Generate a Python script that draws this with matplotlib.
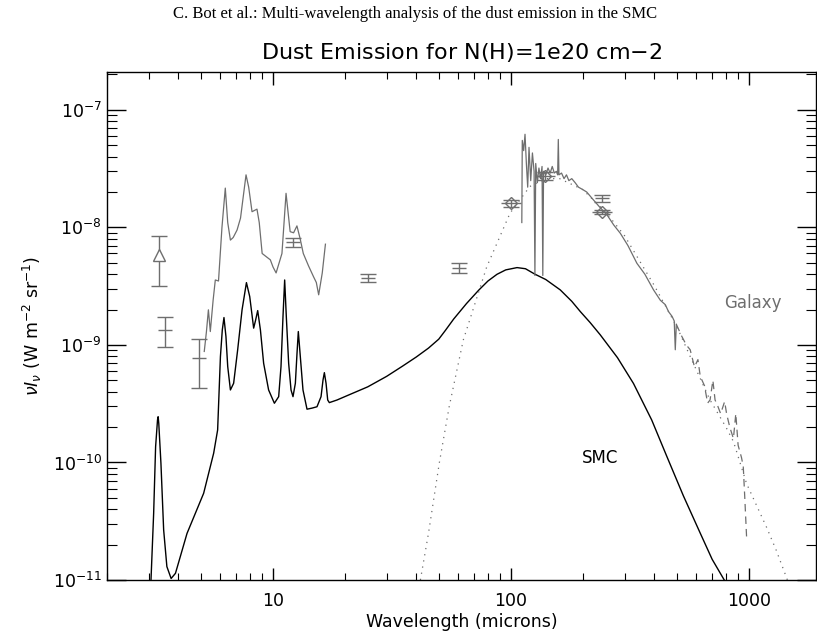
import math
import matplotlib
matplotlib.use("Agg")
import matplotlib.pyplot as plt
from matplotlib.ticker import FixedLocator, NullFormatter, FuncFormatter

# ---------------- data ----------------
smc_wav = [3.05, 3.07, 3.15, 3.21, 3.27, 3.29, 3.31, 3.38, 3.47, 3.58, 3.73, 3.89, 4.35, 5.11,
           5.63, 5.85, 6.01, 6.12, 6.22, 6.34, 6.45, 6.62, 6.83, 7.10, 7.41, 7.73, 7.98, 8.29,
           8.45, 8.62, 8.85, 9.13, 9.58, 10.13, 10.56, 10.80, 11.01, 11.19, 11.37, 11.63, 11.90,
           12.13, 12.41, 12.61, 12.77, 13.02, 13.36, 13.89, 14.58, 15.30, 15.91, 16.22, 16.43,
           16.70, 16.97, 17.24, 18.57, 20.78, 25, 30, 35, 40, 45, 49.7, 53, 57.4, 65, 73.1, 80,
           87.3, 95, 106, 115, 126, 140, 161, 180, 195.6, 215, 237, 280, 327, 390, 452, 530, 624,
           700, 787, 820]
smc_flux = [8e-12, 1e-11, 3.69e-11, 1.36e-10, 2.3e-10, 2.45e-10, 2.15e-10, 9.85e-11, 2.67e-11,
            1.3e-11, 1.03e-11, 1.14e-11, 2.49e-11, 5.47e-11, 1.2e-10, 1.89e-10, 7.95e-10, 1.34e-9,
            1.71e-9, 1.18e-9, 6.54e-10, 4.14e-10, 4.72e-10, 9.06e-10, 1.99e-9, 3.39e-9, 2.58e-9,
            1.39e-9, 1.63e-9, 1.96e-9, 1.34e-9, 6.98e-10, 4.14e-10, 3.19e-10, 3.63e-10, 6.54e-10,
            1.74e-9, 3.57e-9, 1.74e-9, 6.98e-10, 4.14e-10, 3.63e-10, 4.72e-10, 8.49e-10, 1.30e-9,
            7.95e-10, 4.14e-10, 2.84e-10, 2.9e-10, 2.98e-10, 3.63e-10, 5.04e-10, 5.81e-10,
            4.72e-10, 3.4e-10, 3.23e-10, 3.4e-10, 3.75e-10, 4.4e-10, 5.4e-10, 6.6e-10, 7.9e-10,
            9.4e-10, 1.12e-9, 1.33e-9, 1.66e-9, 2.25e-9, 2.92e-9, 3.5e-9, 3.99e-9, 4.35e-9,
            4.55e-9, 4.45e-9, 4.0e-9, 3.6e-9, 2.94e-9, 2.35e-9, 1.92e-9, 1.55e-9, 1.22e-9,
            7.8e-10, 4.7e-10, 2.3e-10, 1.12e-10, 5.2e-11, 2.5e-11, 1.5e-11, 1e-11, 8.5e-12]

gal_mir_wav = [5.14, 5.25, 5.35, 5.45, 5.6, 5.72, 5.9, 6.1, 6.3, 6.45, 6.62, 6.8, 7.06, 7.3,
               7.7, 7.9, 8.16, 8.56, 8.75, 9.0, 9.4, 9.74, 10.0, 10.3, 10.9, 11.34, 11.8, 12.2,
               12.6, 13.0, 13.4, 14.1, 14.8, 15.2, 15.55, 16.1, 16.6]
gal_mir_flux = [8.8e-10, 1.3e-9, 1.99e-9, 1.3e-9, 2.4e-9, 3.57e-9, 3.5e-9, 1e-8, 2.16e-8, 1.1e-8,
                7.8e-9, 8.2e-9, 9.5e-9, 1.2e-8, 2.8e-8, 2.2e-8, 1.36e-8, 1.43e-8, 1.1e-8, 6.0e-9,
                5.6e-9, 5.3e-9, 4.6e-9, 4.1e-9, 6e-9, 1.95e-8, 9.2e-9, 9.0e-9, 1.03e-8, 8e-9,
                6e-9, 4.7e-9, 3.8e-9, 3.4e-9, 2.67e-9, 4.1e-9, 7.2e-9]

gal_fir_wav = [111, 111.5, 113, 114.5, 116, 117.5, 119, 121, 123, 125, 126, 127, 129, 131, 133,
               135, 136, 137, 140, 143, 146, 149, 152, 155, 157, 158, 159, 163, 167, 171, 175,
               180, 186, 192, 200, 208, 220, 235, 253, 270, 288, 310, 338, 365, 397, 424, 445,
               459, 475, 485, 490, 495]
gal_fir_flux = [1.1e-8, 5.5e-8, 4.5e-8, 6.2e-8, 3.5e-8, 2.2e-8, 4.8e-8, 2.5e-8, 4.3e-8, 3e-8,
                3.9e-9, 3.5e-8, 2.4e-8, 3.2e-8, 2.6e-8, 3.3e-8, 3.9e-9, 3e-8, 2.8e-8, 3.2e-8,
                2.9e-8, 3.3e-8, 2.9e-8, 3.0e-8, 2.8e-8, 5.6e-8, 2.8e-8, 2.9e-8, 2.6e-8, 2.8e-8,
                2.5e-8, 2.6e-8, 2.4e-8, 2.2e-8, 2.1e-8, 2.0e-8, 1.75e-8, 1.5e-8, 1.28e-8, 1.05e-8,
                8.9e-9, 7e-9, 4.95e-9, 4e-9, 2.94e-9, 2.4e-9, 2.2e-9, 1.92e-9, 1.75e-9, 1.6e-9,
                9.1e-10, 1.5e-9]

gal_tail_wav = [495, 520, 545, 566, 590, 610, 624, 650, 670, 686, 705, 720, 740, 760, 790, 805,
                830, 860, 880, 900, 930, 946, 960, 977]
gal_tail_flux = [1.5e-9, 1.2e-9, 1.0e-9, 9.1e-10, 6.5e-10, 7.5e-10, 5.4e-10, 4.5e-10, 3.2e-10,
                 3.4e-10, 5.0e-10, 3.4e-10, 3.0e-10, 2.6e-10, 3.3e-10, 2.6e-10, 2.0e-10, 1.6e-10,
                 2.6e-10, 1.4e-10, 1.1e-10, 9.2e-11, 5e-11, 2.3e-11]

model_wav = [41.6, 45, 50, 55, 63, 79, 99, 120, 140, 160, 200, 250, 300, 400, 500, 558, 686,
             800, 861, 977, 1186, 1300, 1450]
model_flux = [1e-11, 2.5e-11, 1e-10, 3e-10, 1.1e-9, 4.6e-9, 1.32e-8, 2.23e-8, 2.6e-8, 2.6e-8,
              2.1e-8, 1.35e-8, 8.5e-9, 3.2e-9, 1.4e-9, 8.5e-10, 3.4e-10, 2e-10, 1.5e-10, 6.6e-11,
              2.8e-11, 1.8e-11, 1e-11]

# photometry with error bars
tri_wav, tri_flux, tri_lo, tri_hi = [3.31], [5.83e-9], [3.2e-9], [8.5e-9]
pt_wav = [3.50, 4.90, 12.1, 25.0, 60.4, 241]
pt_flux = [1.33e-9, 7.7e-10, 7.5e-9, 3.7e-9, 4.55e-9, 1.77e-8]
pt_lo = [9.55e-10, 4.33e-10, 6.8e-9, 3.4e-9, 4.1e-9, 1.63e-8]
pt_hi = [1.72e-9, 1.12e-9, 8.2e-9, 4.0e-9, 5.0e-9, 1.87e-8]
dia_wav = [100, 139, 241]
dia_flux = [1.6e-8, 2.75e-8, 1.36e-8]
dia_lo = [1.5e-8, 2.55e-8, 1.3e-8]
dia_hi = [1.7e-8, 2.95e-8, 1.42e-8]

x_major = [10, 100, 1000]
y_major = [1e-11, 1e-10, 1e-9, 1e-8, 1e-7]

# ---------------- figure ----------------
GREY = "#6e6e6e"
fig = plt.figure(figsize=(8.17, 6.33), dpi=100)
ax = fig.add_axes([106.7 / 817, 53 / 633, (816 - 106.7) / 817, (580 - 72) / 633])
ax.set_xscale("log")
ax.set_yscale("log")

ax.plot(smc_wav, smc_flux, color="black", lw=1.0)
ax.plot(gal_mir_wav, gal_mir_flux, color=GREY, lw=0.9)
ax.plot(gal_fir_wav, gal_fir_flux, color=GREY, lw=0.9)
ax.plot(gal_tail_wav, gal_tail_flux, color=GREY, lw=0.9, dashes=(6, 4))
ax.plot(model_wav, model_flux, color=GREY, lw=0.9, ls=(0, (1, 4)))


def err(f, lo, hi):
    return [[fi - l for fi, l in zip(f, lo)], [h - fi for fi, h in zip(f, hi)]]


ax.errorbar(tri_wav, tri_flux, yerr=err(tri_flux, tri_lo, tri_hi), fmt="^",
            mfc="white", mec=GREY, ms=9, ecolor=GREY, elinewidth=1, capsize=6, capthick=1)
ax.errorbar(pt_wav, pt_flux, yerr=err(pt_flux, pt_lo, pt_hi), fmt="_",
            color=GREY, ms=10, ecolor=GREY, elinewidth=1, capsize=6, capthick=1)
ax.errorbar(dia_wav, dia_flux, yerr=err(dia_flux, dia_lo, dia_hi), fmt="D",
            mfc="none", mec=GREY, ms=6, ecolor=GREY, elinewidth=1, capsize=6, capthick=1)
ax.plot(dia_wav, dia_flux, ls="none", marker="_", color=GREY, ms=14)

xmin, xmax = 2.0, 1912
ymin, ymax = 1e-11, 2.1e-7
ax.set_xlim(xmin, xmax)
ax.set_ylim(ymin, ymax)

x_minor = [m * d for d in [1, 10, 100, 1000] for m in range(2, 10) if xmin <= m * d <= xmax]
y_minor = [m * d for d in y_major for m in range(2, 10) if ymin <= m * d <= ymax]
ax.xaxis.set_major_locator(FixedLocator(x_major))
ax.xaxis.set_minor_locator(FixedLocator(x_minor))
ax.xaxis.set_minor_formatter(NullFormatter())
ax.xaxis.set_major_formatter(FuncFormatter(lambda v, p: f"{int(round(v))}"))
ax.yaxis.set_major_locator(FixedLocator(y_major))
ax.yaxis.set_minor_locator(FixedLocator(y_minor))
ax.yaxis.set_minor_formatter(NullFormatter())
ax.yaxis.set_major_formatter(FuncFormatter(lambda v, p: r"$10^{%d}$" % round(math.log10(v))))
ax.tick_params(which="both", direction="in", top=True, right=True, labelsize=12.5)
ax.tick_params(axis="y", which="major", length=14, width=1)
ax.tick_params(axis="y", which="minor", length=7, width=0.8)
ax.tick_params(axis="x", which="major", length=9, width=1)
ax.tick_params(axis="x", which="minor", length=5, width=0.8)
ax.tick_params(axis="x", pad=9)
for s in ax.spines.values():
    s.set_linewidth(1.0)

ax.set_xlabel("Wavelength (microns)", fontsize=12.5, va="center")
ax.xaxis.set_label_coords(0.5, -(622 - 580) / 508)
ax.set_ylabel(r"$\nu I_\nu$ (W m$^{-2}$ sr$^{-1}$)", fontsize=12.5, labelpad=6)
ax.set_title("Dust Emission for N(H)=1e20 cm$-$2", fontsize=16, pad=9)

ax.text(237, 1.09e-10, "SMC", color="black", fontsize=12, ha="center", va="center")
ax.text(1042, 2.27e-9, "Galaxy", color=GREY, fontsize=12, ha="center", va="center")

fig.text(415 / 817, 1 - 14 / 633, "C. Bot et al.: Multi-wavelength analysis of the dust emission in the SMC",
         fontsize=12, family="Liberation Serif", ha="center", va="center")

fig.savefig("out.png", dpi=100)
